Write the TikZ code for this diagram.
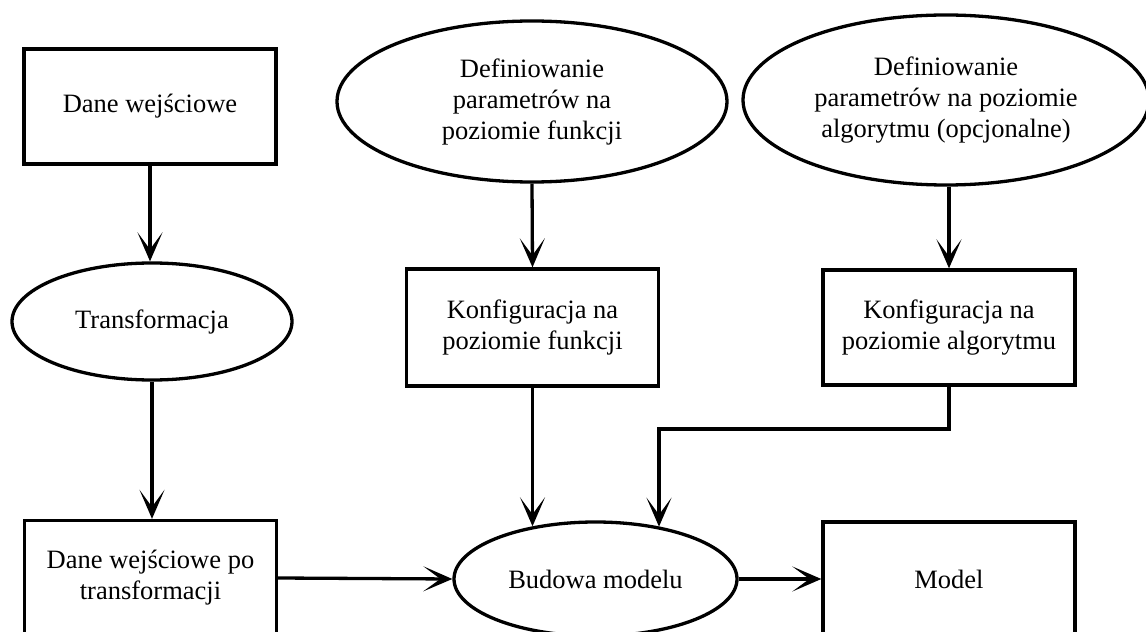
\documentclass[tikz,border=0pt]{standalone}
\usepackage{fontspec}
\setmainfont{Liberation Serif}
\usetikzlibrary{shapes.geometric,arrows.meta}
\begin{document}
\begin{tikzpicture}[x=1bp,y=-1bp,
  every node/.style={font=\fontsize{26.5bp}{31bp}\selectfont, align=center, inner sep=0pt, line width=3.3bp},
  boxnode/.style={draw, rectangle, minimum width=252bp, minimum height=115bp},
  ellnode/.style={draw, ellipse},
  arr/.style={line width=3.3bp, -{Stealth[length=29bp,width=25bp,inset=17bp]}}]
\useasboundingbox (0,0) rectangle (1146,632);
\fill[white] (0,0) rectangle (1146,632);
\node[boxnode] (dw) at (150,106.5) {Dane wejściowe};
\node[ellnode, minimum width=280bp, minimum height=117bp] (tr) at (152,321.5) {Transformacja};
\node[boxnode] (dwt) at (150.5,578) {Dane wejściowe po\\transformacji};
\node[ellnode, minimum width=390bp, minimum height=161bp] (d1) at (532,101.5) {Definiowanie\\parametrów na\\poziomie funkcji};
\node[boxnode, minimum height=117bp] (k1) at (532.5,327.5) {Konfiguracja na\\poziomie funkcji};
\node[ellnode, minimum width=406bp, minimum height=170bp] (d2) at (946,100) {Definiowanie\\parametrów na poziomie\\algorytmu (opcjonalne)};
\node[boxnode] (k2) at (949,327.5) {Konfiguracja na\\poziomie algorytmu};
\node[ellnode, minimum width=283bp, minimum height=114bp] (bm) at (595.5,579) {Budowa modelu};
\node[boxnode, minimum height=114bp] (m) at (949,579) {Model};
\coordinate (elb) at (659,429);
\draw[arr] (dw.south) -- (dw.south |- tr.north);
\draw[arr] (tr.south) -- (tr.south |- dwt.north);
\draw[arr] (d1.south) -- (k1.north);
\draw[arr] (k2.north |- d2.south) -- (k2.north);
\draw[arr] (k1.south) -- (k1.south |- bm.140.8);
\draw[arr] (k2.south) |- (elb) -- (elb |- bm.39);
\draw[arr] (dwt.east) -- (bm.west);
\draw[arr] (bm.east) -- (m.west);
\end{tikzpicture}
\end{document}
